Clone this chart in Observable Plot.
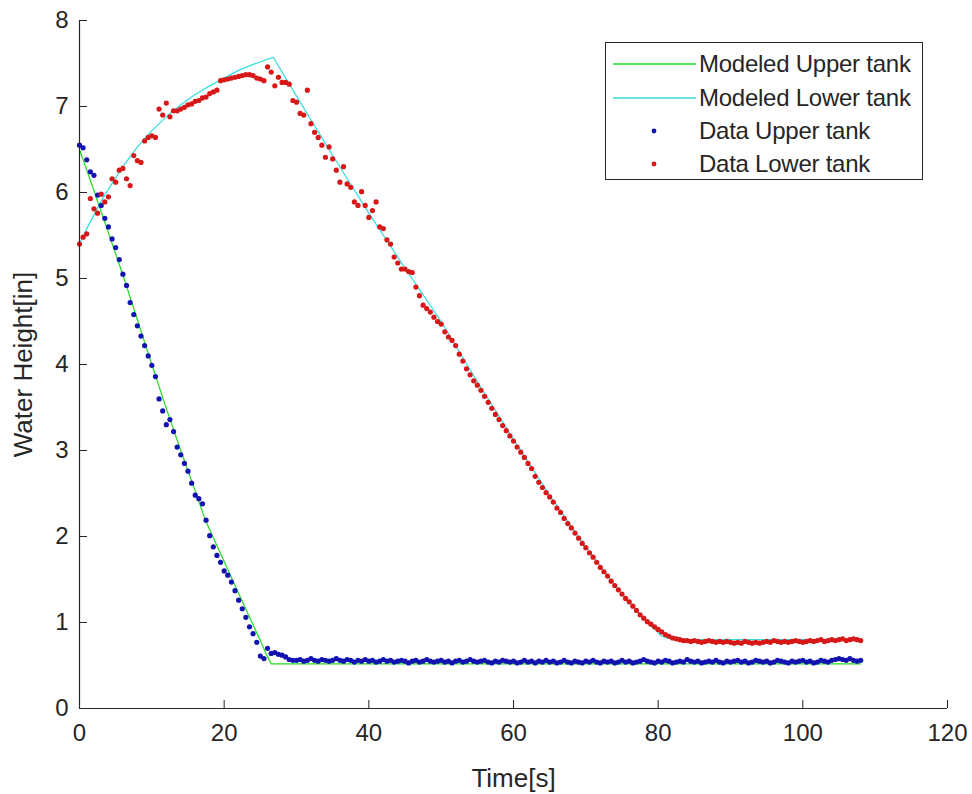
<!DOCTYPE html>
<html>
<head>
<meta charset="utf-8">
<script src="https://cdn.jsdelivr.net/npm/d3@7"></script>
<script src="https://cdn.jsdelivr.net/npm/@observablehq/plot@0.6"></script>
<style>
  html, body { margin: 0; padding: 0; background: #fff; }
  #wrap { position: relative; width: 972px; height: 794px; font-family: "Liberation Sans", Arial, sans-serif; color: #262626; }
  #legend { position: absolute; left: 605px; top: 42px; width: 318px; height: 138px; border: 1px solid #262626; background: #fff; box-sizing: border-box; }
  .row { position: absolute; left: 0; height: 30px; width: 100%; display: flex; align-items: center; }
  .row svg { flex: none; }
  .row span { font-size: 24px; margin-left: 1px; white-space: nowrap; letter-spacing: -0.25px; }
</style>
</head>
<body>
<div id="wrap"></div>
<script>
// ---------- data ----------
const sampleTime = [
  0,0.5,1,1.5,2,2.5,3,3.5,4,4.5,5,5.5,6,6.5,7,7.5,8,8.5,9,9.5,
  10,10.5,11,11.5,12,12.5,13,13.5,14,14.5,15,15.5,16,16.5,17,17.5,18,18.5,19,19.5,
  20,20.5,21,21.5,22,22.5,23,23.5,24,24.5,25,25.5,26,26.5,27,27.5,28,28.5,29,29.5,
  30,30.5,31,31.5,32,32.5,33,33.5,34,34.5,35,35.5,36,36.5,37,37.5,38,38.5,39,39.5,
  40,40.5,41,41.5,42,42.5,43,43.5,44,44.5,45,45.5,46,46.5,47,47.5,48,48.5,49,49.5,
  50,50.5,51,51.5,52,52.5,53,53.5,54,54.5,55,55.5,56,56.5,57,57.5,58,58.5,59,59.5,
  60,60.5,61,61.5,62,62.5,63,63.5,64,64.5,65,65.5,66,66.5,67,67.5,68,68.5,69,69.5,
  70,70.5,71,71.5,72,72.5,73,73.5,74,74.5,75,75.5,76,76.5,77,77.5,78,78.5,79,79.5,
  80,80.5,81,81.5,82,82.5,83,83.5,84,84.5,85,85.5,86,86.5,87,87.5,88,88.5,89,89.5,
  90,90.5,91,91.5,92,92.5,93,93.5,94,94.5,95,95.5,96,96.5,97,97.5,98,98.5,99,99.5,
  100,100.5,101,101.5,102,102.5,103,103.5,104,104.5,105,105.5,106,106.5,107,107.5,108
];

const dataUpper = [
  6.55,6.52,6.38,6.24,6.20,5.97,5.85,5.70,5.60,5.46,
  5.36,5.22,5.05,4.92,4.72,4.58,4.45,4.33,4.22,4.10,
  3.99,3.86,3.60,3.46,3.30,3.36,3.22,3.04,2.95,2.85,
  2.76,2.62,2.48,2.44,2.38,2.19,2.01,1.88,1.78,1.70,
  1.60,1.55,1.47,1.37,1.26,1.16,1.06,0.95,0.87,0.77,
  0.61,0.58,0.70,0.64,0.65,0.63,0.62,0.60,0.57,0.56,
  0.56,0.57,0.55,0.56,0.58,0.56,0.55,0.57,0.56,0.55,
  0.56,0.58,0.56,0.55,0.57,0.56,0.54,0.56,0.55,0.57,
  0.55,0.56,0.54,0.55,0.57,0.55,0.56,0.54,0.55,0.56,
  0.55,0.53,0.55,0.56,0.54,0.55,0.57,0.55,0.54,0.55,
  0.56,0.54,0.55,0.53,0.55,0.56,0.54,0.55,0.57,0.55,
  0.54,0.55,0.56,0.54,0.53,0.55,0.54,0.56,0.55,0.54,
  0.55,0.53,0.54,0.56,0.54,0.55,0.53,0.55,0.54,0.56,
  0.54,0.55,0.53,0.54,0.56,0.54,0.53,0.55,0.54,0.53,
  0.55,0.54,0.56,0.54,0.53,0.55,0.54,0.55,0.53,0.54,
  0.56,0.54,0.55,0.53,0.54,0.55,0.57,0.55,0.54,0.53,
  0.55,0.54,0.56,0.55,0.53,0.54,0.55,0.54,0.57,0.55,
  0.54,0.55,0.53,0.54,0.55,0.54,0.56,0.54,0.53,0.55,
  0.54,0.55,0.56,0.54,0.55,0.53,0.54,0.56,0.55,0.54,
  0.55,0.53,0.54,0.56,0.55,0.54,0.53,0.55,0.54,0.55,
  0.56,0.54,0.55,0.53,0.54,0.56,0.55,0.54,0.56,0.57,
  0.58,0.57,0.56,0.58,0.56,0.55,0.56
];

const dataLower = [
  5.40,5.48,5.52,5.93,5.81,5.76,5.98,5.89,5.95,6.16,
  6.12,6.26,6.28,6.16,6.08,6.43,6.37,6.35,6.60,6.64,
  6.66,6.64,6.97,6.90,7.04,6.88,6.95,6.95,6.97,6.99,
  7.02,7.03,7.06,7.07,7.10,7.11,7.15,7.17,7.19,7.30,
  7.31,7.32,7.33,7.34,7.35,7.36,7.37,7.37,7.36,7.33,
  7.32,7.30,7.46,7.40,7.24,7.34,7.28,7.28,7.26,7.07,
  7.05,6.92,6.90,7.19,6.80,6.70,6.64,6.55,6.41,6.53,
  6.39,6.26,6.12,6.30,6.10,6.06,5.89,5.85,6.01,5.85,
  5.71,5.79,5.89,5.60,5.58,5.45,5.40,5.25,5.18,5.11,
  5.11,5.08,5.07,4.90,4.80,4.69,4.65,4.61,4.55,4.50,
  4.47,4.38,4.32,4.28,4.22,4.12,4.04,3.95,3.88,3.81,
  3.76,3.70,3.63,3.56,3.49,3.42,3.36,3.29,3.23,3.17,
  3.11,3.04,2.98,2.92,2.85,2.79,2.70,2.63,2.57,2.51,
  2.46,2.40,2.33,2.28,2.21,2.15,2.10,2.04,1.98,1.92,
  1.87,1.81,1.76,1.70,1.64,1.59,1.54,1.48,1.43,1.38,
  1.33,1.28,1.24,1.19,1.14,1.09,1.05,1.01,0.98,0.95,
  0.92,0.89,0.86,0.84,0.82,0.81,0.80,0.79,0.79,0.78,
  0.79,0.78,0.77,0.78,0.79,0.78,0.77,0.78,0.77,0.78,
  0.77,0.76,0.77,0.76,0.78,0.77,0.76,0.77,0.76,0.77,
  0.78,0.77,0.79,0.78,0.77,0.78,0.77,0.78,0.79,0.78,
  0.77,0.78,0.79,0.78,0.79,0.80,0.78,0.79,0.80,0.79,
  0.80,0.81,0.79,0.80,0.81,0.80,0.79
];

const modelUpperTime = [0,2,4,6,8,10,12,14,16,17.4,20,22,24,25,26,26.5,108];
const modelUpperHeight = [6.50,6.02,5.53,5.04,4.52,4.00,3.49,3.00,2.53,2.19,1.71,1.34,0.97,0.79,0.60,0.52,0.52];

const modelLowerTime = [0,1,2,3,4,5,6,8,10,12,14,16,18,20,22,24,26,26.8,30,35,40,45,50,55,60,65,70,75,79,80.5,82,108];
const modelLowerHeight = [5.40,5.58,5.74,5.90,6.04,6.17,6.30,6.53,6.72,6.88,7.02,7.14,7.24,7.33,7.42,7.49,7.55,7.57,7.12,6.43,5.76,5.12,4.50,3.80,3.13,2.48,1.88,1.33,0.96,0.84,0.80,0.80];

const xTicks = [0,20,40,60,80,100,120];
const yTicks = [0,1,2,3,4,5,6,7,8];

const seriesNames = ["Modeled Upper tank","Modeled Lower tank","Data Upper tank","Data Lower tank"];
const seriesColors = ["#22dd22","#33dddd","#1212b0","#d81818"];

// ---------- tables ----------
const upperPts = sampleTime.map((t, i) => ({t, h: dataUpper[i]}));
const lowerPts = sampleTime.map((t, i) => ({t, h: dataLower[i]}));
const upperModel = modelUpperTime.map((t, i) => ({t, h: modelUpperHeight[i]}));
const lowerModel = modelLowerTime.map((t, i) => ({t, h: modelLowerHeight[i]}));

const axisColor = "#262626";

const chart = Plot.plot({
  width: 972,
  height: 794,
  marginLeft: 79,
  marginRight: 25,
  marginTop: 20,
  marginBottom: 86,
  style: {fontFamily: "'Liberation Sans', Arial, sans-serif", fontSize: "24px", color: axisColor, background: "#fff"},
  x: {domain: [0, 120]},
  y: {domain: [0, 8]},
  marks: [
    Plot.line(upperModel, {x: "t", y: "h", stroke: seriesColors[0], strokeWidth: 1.2}),
    Plot.line(lowerModel, {x: "t", y: "h", stroke: seriesColors[1], strokeWidth: 1.2}),
    Plot.dot(upperPts, {x: "t", y: "h", r: 2.6, fill: seriesColors[2], stroke: "none"}),
    Plot.dot(lowerPts, {x: "t", y: "h", r: 2.6, fill: seriesColors[3], stroke: "none"}),
    Plot.ruleY([0], {stroke: axisColor, strokeWidth: 1.2}),
    Plot.ruleX([0], {stroke: axisColor, strokeWidth: 1.2}),
    Plot.axisX(xTicks, {tickSize: -8, fill: "none", stroke: axisColor, label: null}),
    Plot.axisY(yTicks, {tickSize: -8, fill: "none", stroke: axisColor, label: null}),
    Plot.axisX(xTicks, {tickSize: 0, tickPadding: 15, fontSize: 24, tickFormat: d => String(d), label: null}),
    Plot.axisY(yTicks, {tickSize: 0, tickPadding: 11, fontSize: 24, tickFormat: d => String(d), label: null}),
    Plot.axisX([], {tickSize: 0, fontSize: 26, label: "Time[s]", labelAnchor: "center", labelOffset: 78, labelArrow: "none"}),
    Plot.axisY([], {tickSize: 0, fontSize: 26, label: "Water Height[in]", labelAnchor: "center", labelOffset: 66, labelArrow: "none"})
  ]
});

const wrap = document.getElementById("wrap");
wrap.appendChild(chart);

// ---------- legend ----------
const legend = document.createElement("div");
legend.id = "legend";
const rowTops = [6, 40, 73, 106];
seriesNames.forEach((name, i) => {
  const row = document.createElement("div");
  row.className = "row";
  row.style.top = rowTops[i] + "px";
  const ns = "http://www.w3.org/2000/svg";
  const s = document.createElementNS(ns, "svg");
  s.setAttribute("width", 92);
  s.setAttribute("height", 30);
  if (i < 2) {
    const l = document.createElementNS(ns, "line");
    l.setAttribute("x1", 7); l.setAttribute("x2", 90);
    l.setAttribute("y1", 15); l.setAttribute("y2", 15);
    l.setAttribute("stroke", seriesColors[i]); l.setAttribute("stroke-width", 1.5);
    s.appendChild(l);
  } else {
    const c = document.createElementNS(ns, "circle");
    c.setAttribute("cx", 48); c.setAttribute("cy", 15); c.setAttribute("r", 2.4);
    c.setAttribute("fill", seriesColors[i]);
    s.appendChild(c);
  }
  row.appendChild(s);
  const sp = document.createElement("span");
  sp.textContent = name;
  row.appendChild(sp);
  legend.appendChild(row);
});
wrap.appendChild(legend);
</script>
</body>
</html>
